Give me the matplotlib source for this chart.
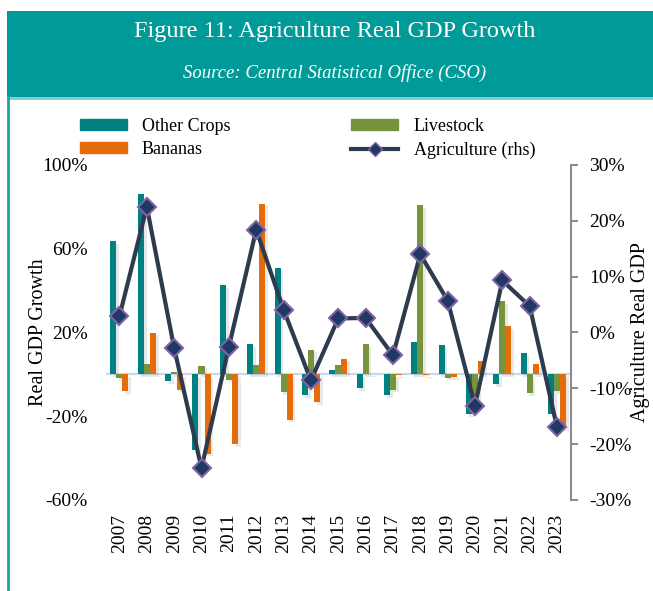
#!/usr/bin/env python

import numpy as np
import matplotlib
matplotlib.use('Agg')
import matplotlib.pyplot as plt
import matplotlib.patheffects as pe
from matplotlib.patches import Rectangle, Patch
from matplotlib.lines import Line2D
from matplotlib.ticker import FuncFormatter

plt.rcParams['font.family'] = ['Liberation Serif', 'DejaVu Serif']

# data (percent)
years = [str(y) for y in range(2007, 2024)]
other_crops = [63.5, 86.0, -3.2, -36.3, 42.5, 14.3, 50.8, -10.0, 2.2, -6.7,
               -10.0, 15.4, 14.2, -19.1, -4.5, 10.4, -18.8]
livestock = [-1.8, 5.1, 1.0, 3.8, -2.5, 4.3, -8.4, 11.8, 4.3, 14.3,
             -7.3, 80.7, -1.6, -12.0, 34.9, -8.9, -8.0]
bananas = [-8.0, 19.9, -7.3, -37.9, -33.4, 81.5, -21.6, -13.2, 7.5, 0.3,
           -0.5, -0.3, -1.3, 6.4, 22.9, 4.8, -25.5]
agriculture = [2.9, 22.5, -2.8, -24.3, -2.6, 18.4, 4.1, -8.6, 2.5, 2.6,
               -4.1, 14.0, 5.7, -13.1, 9.3, 4.7, -17.0]

TEAL = '#008080'
GREEN = '#77933C'
ORANGE = '#E46C0A'
HEADER = '#009B98'
LINE = '#2E3A4E'

pct = FuncFormatter(lambda v, p: '%d%%' % v)

fig = plt.figure(figsize=(6.53, 5.91), dpi=100)

# header band and left border
fig.patches.append(Rectangle((0.011, 0.836), 0.989, 0.145, transform=fig.transFigure,
                             facecolor=HEADER, edgecolor='none', zorder=0))
fig.patches.append(Rectangle((0.011, 0.831), 0.989, 0.005, transform=fig.transFigure,
                             facecolor='#7FCFCB', edgecolor='none', zorder=0))
fig.lines.append(Line2D([0.0125, 0.0125], [0.0, 0.836], transform=fig.transFigure,
                        color='#1AA6A2', linewidth=2))
fig.text(0.512, 0.946, 'Figure 11: Agriculture Real GDP Growth', color='white',
         fontsize=17.5, ha='center', va='center')
fig.text(0.512, 0.877, 'Source: Central Statistical Office (CSO)', color='white',
         fontsize=13.5, style='italic', ha='center', va='center')

ax = fig.add_axes([0.162, 0.154, 0.712, 0.567])
x = np.arange(len(years))
w = 0.22
shadow = [pe.SimplePatchShadow(offset=(2, -2), alpha=0.1), pe.Normal()]
ax.bar(x - w, other_crops, w, color=TEAL, path_effects=shadow, zorder=2)
ax.bar(x, livestock, w, color=GREEN, path_effects=shadow, zorder=2)
ax.bar(x + w, bananas, w, color=ORANGE, path_effects=shadow, zorder=2)
ax.axhline(0, color='#C6D9F1', linewidth=1.6, zorder=1)

ax.set_xlim(-0.5, len(years) - 0.5)
ax.set_ylim(-60, 100)
ax.set_yticks([-60, -20, 20, 60, 100])
ax.yaxis.set_major_formatter(pct)
ax.set_xticks(x)
ax.set_xticklabels(years, rotation=90)
ax.tick_params(axis='both', length=0, labelsize=14)
ax.tick_params(axis='y', pad=13)
ax.tick_params(axis='x', pad=10)
for s in ax.spines.values():
    s.set_visible(False)
ax.set_ylabel('Real GDP Growth', fontsize=14.5, labelpad=-4)

ax2 = ax.twinx()
ax2.plot(x, agriculture, color=LINE, linewidth=3, marker='D', markersize=9.5,
         markerfacecolor='#1F3864', markeredgecolor='#8064A2', markeredgewidth=1.5,
         zorder=3)
ax2.set_ylim(-30, 30)
ax2.set_yticks(np.arange(-30, 31, 10))
ax2.yaxis.set_major_formatter(pct)
for k in ['top', 'left', 'bottom']:
    ax2.spines[k].set_visible(False)
ax2.spines['right'].set_color('#8C8C8C')
ax2.spines['right'].set_linewidth(1.5)
ax2.tick_params(axis='y', direction='out', length=5, width=1.5, color='#8C8C8C',
                labelsize=14, pad=8)
ax2.set_ylabel('Agriculture Real GDP', fontsize=14.5, labelpad=0)

handles = [Patch(color=TEAL), Patch(color=ORANGE), Patch(color=GREEN),
           Line2D([], [], color=LINE, linewidth=3, marker='D', markersize=7,
                  markerfacecolor='#1F3864', markeredgecolor='#8064A2')]
labels = ['Other Crops', 'Bananas', 'Livestock', 'Agriculture (rhs)']
fig.legend(handles, labels, ncol=2, loc='upper left', bbox_to_anchor=(0.097, 0.828),
           frameon=False, fontsize=13, handlelength=2.6, handleheight=0.55,
           handletextpad=0.85, columnspacing=6.7, labelspacing=0.35)

fig.savefig('out.png', dpi=100)
